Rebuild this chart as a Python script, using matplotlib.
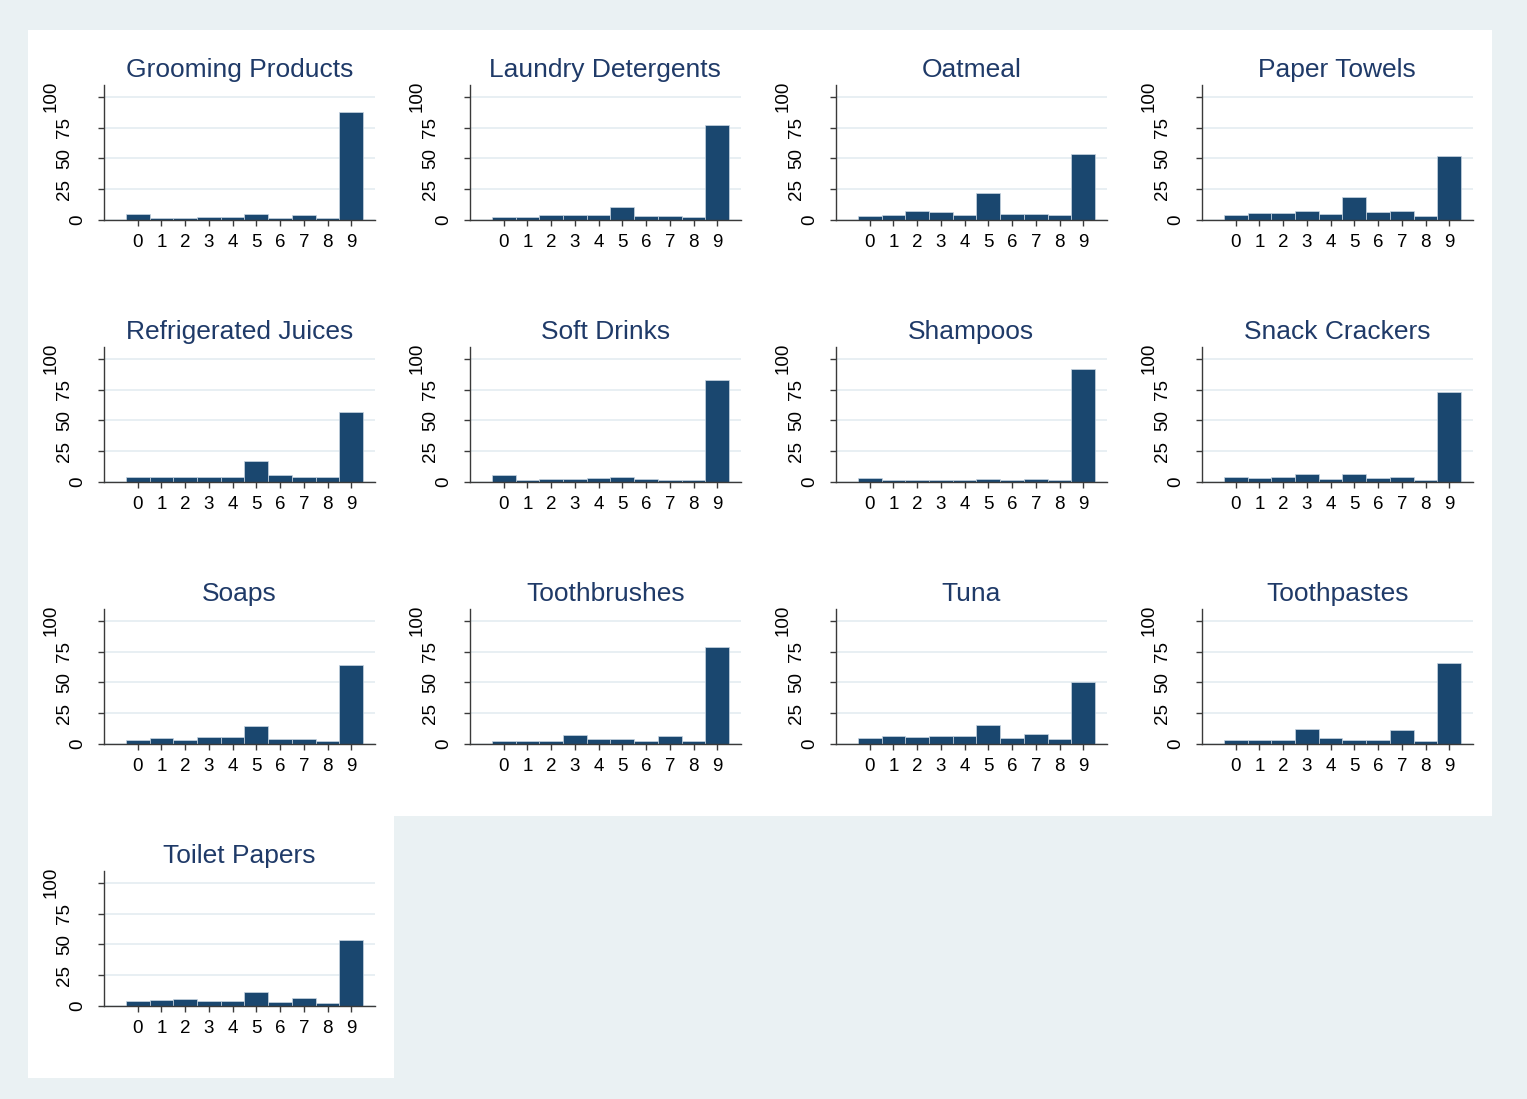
import numpy as np
import matplotlib
matplotlib.use('Agg')
import matplotlib.pyplot as plt
from matplotlib.patches import Rectangle

plt.rcParams['font.family'] = ['Liberation Sans', 'DejaVu Sans']

# percent of observations per last digit, one list per category
digits = list(range(10))
y_ticks = [0, 25, 50, 75, 100]

grooming = [4.9, 1.6, 1.6, 2.4, 2.4, 4.9, 1.6, 4.0, 1.6, 87.8]
laundry = [2.4, 2.4, 4.0, 4.0, 4.0, 10.8, 3.2, 3.2, 2.4, 77.3]
oatmeal = [3.2, 4.0, 7.0, 6.2, 4.0, 21.9, 4.9, 4.9, 4.0, 53.8]
paper_towels = [4.0, 5.7, 5.7, 7.0, 4.9, 18.9, 6.2, 7.0, 3.2, 51.6]
juices = [3.8, 3.8, 3.8, 3.8, 3.8, 17.3, 5.4, 3.8, 3.8, 57.1]
soft_drinks = [5.4, 1.6, 2.4, 2.4, 3.2, 4.0, 2.4, 1.6, 1.6, 83.0]
shampoos = [3.2, 1.6, 1.6, 1.6, 1.6, 2.4, 1.6, 2.4, 1.6, 92.0]
crackers = [3.8, 3.0, 3.8, 6.7, 2.2, 6.7, 3.0, 3.8, 1.6, 73.3]
soaps = [3.2, 4.9, 3.2, 5.7, 5.7, 14.3, 4.0, 4.0, 2.4, 64.0]
toothbrushes = [2.4, 2.4, 2.4, 7.6, 4.0, 4.0, 2.4, 6.2, 2.4, 79.0]
tuna = [4.9, 6.2, 5.4, 6.8, 6.2, 15.7, 4.6, 8.1, 3.8, 50.0]
toothpastes = [3.2, 3.2, 3.2, 12.2, 4.9, 3.2, 3.2, 11.6, 2.4, 65.4]
toilet_papers = [4.0, 5.0, 5.7, 4.0, 4.0, 11.4, 3.2, 6.5, 2.4, 53.7]

titles = ["Grooming Products", "Laundry Detergents", "Oatmeal", "Paper Towels",
          "Refrigerated Juices", "Soft Drinks", "Shampoos", "Snack Crackers",
          "Soaps", "Toothbrushes", "Tuna", "Toothpastes", "Toilet Papers"]
series = [grooming, laundry, oatmeal, paper_towels, juices, soft_drinks, shampoos,
          crackers, soaps, toothbrushes, tuna, toothpastes, toilet_papers]

W, H = 1527, 1099
BG = '#EAF1F3'
NAVY = '#1A476F'
TITLE = '#1F3A68'
AXIS = '#3a3a3a'

fig = plt.figure(figsize=(W / 100, H / 100), dpi=100, facecolor=BG)


def frac(left, top, w, h):
    return [left / W, 1 - (top + h) / H, w / W, h / H]


for i, (title, vals) in enumerate(zip(titles, series)):
    r, c = divmod(i, 4)
    # white panel background, kept underneath the axes
    x0, y0, cw, ch = frac(28 + c * 366, 30 + r * 262, 366, 262)
    fig.patches.append(Rectangle((x0, y0), cw, ch, transform=fig.transFigure,
                                 facecolor='white', edgecolor='none', zorder=-5))
    ax = fig.add_axes(frac(103.5 + c * 366, 85 + r * 262, 271.5, 135))
    ax.set_facecolor('white')
    ax.bar(digits, vals, width=1.0, color=NAVY, edgecolor='#c9d6e2', linewidth=0.5, zorder=2)
    ax.set_xlim(-1.44, 10.0)
    ax.set_ylim(0, 109.5)

    ax.set_xticks(digits)
    ax.set_xticklabels([str(d) for d in digits], fontsize=13.5)
    ax.set_yticks(y_ticks)
    ax.set_yticklabels([])
    ax.yaxis.grid(True, color='#E6EEF2', linewidth=1.3, zorder=0)
    ax.set_axisbelow(True)
    ax.tick_params(axis='both', direction='out', length=4, width=1, color=AXIS)
    ax.tick_params(axis='x', pad=6)

    # rotated y labels, offset by their length like the original
    for v in y_ticks:
        lab = str(v)
        off = 8.3 + 9.9 * len(lab)
        ax.annotate(lab, xy=(0, v), xycoords=('axes fraction', 'data'),
                    xytext=(-off, 0), textcoords='offset points',
                    rotation=90, ha='center', va='center', fontsize=13.5)

    for s in ['top', 'right']:
        ax.spines[s].set_visible(False)
    for s in ['left', 'bottom']:
        ax.spines[s].set_color(AXIS)
        ax.spines[s].set_linewidth(1)

    ax.set_title(title, fontsize=19, color=TITLE, pad=6)

fig.savefig('out.png', dpi=100, facecolor=BG)
